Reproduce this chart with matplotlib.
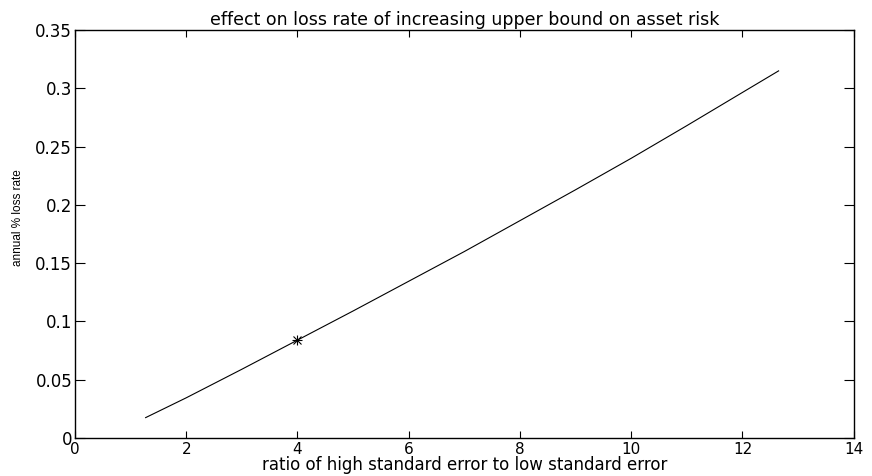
import matplotlib
matplotlib.use("Agg")
import matplotlib.pyplot as plt

plt.rcParams['font.family'] = ['DejaVu Sans']

# ratio of high to low standard error vs annual % loss rate
ratio = [1.27, 2, 3, 4, 5, 6, 7, 8, 9, 10, 11, 12, 12.65]
loss_rate = [0.0175, 0.0345, 0.059, 0.084, 0.109, 0.1345, 0.160,
             0.1865, 0.213, 0.240, 0.268, 0.2965, 0.315]

# highlighted point
mark_x = [4]
mark_y = [0.084]

x_ticks = [0, 2, 4, 6, 8, 10, 12, 14]
y_ticks = [0, 0.05, 0.1, 0.15, 0.2, 0.25, 0.3, 0.35]
y_tick_labels = ['0', '0.05', '0.1', '0.15', '0.2', '0.25', '0.3', '0.35']

fig = plt.figure(figsize=(8.72, 4.76), dpi=100)
ax = fig.add_axes([0.086, 0.0798, 0.893, 0.857])

ax.plot(ratio, loss_rate, color='black', linewidth=0.8)
# matlab style asterisk marker
ax.plot(mark_x, mark_y, marker='+', color='black', markersize=7,
        linestyle='none', markeredgewidth=0.8)
ax.plot(mark_x, mark_y, marker='x', color='black', markersize=6,
        linestyle='none', markeredgewidth=0.8)

ax.set_xlim(0, 14)
ax.set_ylim(0, 0.35)
ax.set_xticks(x_ticks)
ax.set_yticks(y_ticks)
ax.set_yticklabels(y_tick_labels)

ax.tick_params(axis='x', direction='in', length=5, width=0.8, top=True,
               labelsize=11, pad=3)
ax.tick_params(axis='y', direction='in', length=7, width=0.8, right=True,
               labelsize=12, pad=2)
for s in ax.spines.values():
    s.set_linewidth(1.0)

ax.set_title('effect on loss rate of increasing upper bound on asset risk',
             fontsize=12.5, pad=4)
ax.set_xlabel('ratio of high standard error to low standard error',
              fontsize=12, labelpad=-1)
ax.set_ylabel('annual % loss rate', fontsize=8.5,
              family=['Liberation Sans Narrow', 'Liberation Sans'])
ax.yaxis.set_label_coords(-0.066, 0.54)

fig.savefig('out.png', dpi=100)
